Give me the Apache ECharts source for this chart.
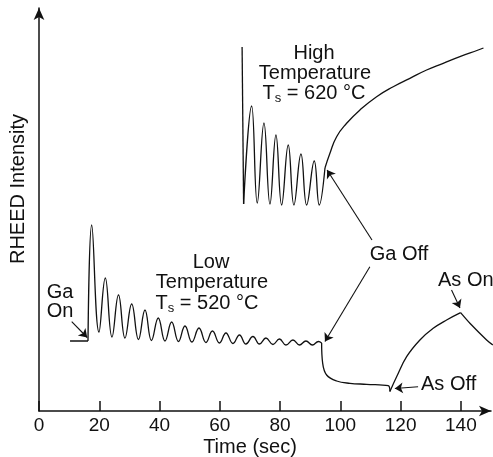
<!DOCTYPE html>
<html><head><meta charset="utf-8">
<script src="https://cdn.jsdelivr.net/npm/echarts@6/dist/echarts.min.js"></script>
<style>html,body{margin:0;padding:0;background:#fff}#c{width:493px;height:457px}</style>
</head><body><div id="c"></div>
<script>
// x tick values (Time, sec)
const xTicks = [0, 20, 40, 60, 80, 100, 120, 140];

// Low temperature (Ts = 520 °C) trace, [time, intensity]
const lowBefore = [[10.3, 70], [16.26, 70]];
const lowGrowth = [[16.26, 70], [17.49, 186], [19.91, 79], [22.0, 133], [24.22, 74], [26.38, 116], [28.53, 73],
  [30.76, 107], [33.01, 71.5], [35.17, 101], [37.33, 70.5], [39.58, 93], [41.81, 70], [44.03, 89],
  [46.28, 69.5], [48.44, 85], [50.76, 69], [53.09, 83], [55.41, 68.5], [57.56, 80], [59.89, 68],
  [62.04, 78], [64.37, 67.5], [66.52, 76], [68.68, 67], [71.0, 74.5], [73.16, 67], [75.32, 73],
  [77.64, 66.5], [79.79, 72], [81.95, 66], [84.27, 71], [86.43, 66], [88.59, 70], [90.74, 66],
  [92.73, 69.5], [93.79, 68]];
const lowGaOff = [[93.79, 68], [94.13, 48], [95.45, 36], [98.77, 30], [103.18, 27.7], [108.73, 26.7],
  [115.89, 25.3], [116.45, 19.5]];
const lowAsOff = [[116.45, 19.5], [118.68, 34.3], [122.0, 54.3], [126.41, 71], [130.82, 82.7],
  [135.27, 91], [139.91, 98.3]];
const lowAsOn = [[139.91, 98.3], [143.0, 87.7], [148.54, 71], [150.6, 66]];

// High temperature (Ts = 620 °C) trace
const highSpike = [[67.4, 364], [67.9, 207]];
const highGrowth = [[67.9, 207], [70.57, 305], [72.43, 208], [74.65, 288], [76.64, 207], [78.63, 276],
  [80.52, 206], [82.71, 266], [84.6, 206], [86.93, 257], [88.82, 206], [91.34, 250], [93.0, 206],
  [94.9, 243]];
const highGaOff = [[94.9, 243], [96.55, 257.7], [98.77, 274.3], [102.09, 287.7], [106.5, 301],
  [112.04, 314.3], [117.55, 324.3], [123.09, 332.7], [128.63, 341], [134.14, 347.7],
  [139.68, 354.3], [145.75, 361], [147.5, 363]];

// Annotation arrows: [from, to] in data coordinates
const arrows = [
  [[10.85, 89.3], [16.0, 73.5]],   // Ga On
  [[110.5, 171], [95.6, 241]],     // Ga Off (high)
  [[109.8, 144.3], [94.9, 69.5]],  // Ga Off (low)
  [[136.9, 121], [139.7, 103]],    // As On
  [[125.8, 24.3], [118.1, 22.5]]   // As Off
];

const FONT = '"Liberation Sans", Arial, Helvetica, sans-serif';
const INK = '#111';
const chart = echarts.init(document.getElementById('c'), null, {renderer: 'canvas'});

function lineSeries(data, smooth) {
  return {
    type: 'line', data: data, showSymbol: false, smooth: smooth, silent: true,
    lineStyle: {color: INK, width: 1.3}, z: 3
  };
}

const series = [
  lineSeries(lowBefore, false),
  lineSeries(lowGrowth, 0.45),
  lineSeries(lowGaOff, 0.4),
  lineSeries(lowAsOff, 0.4),
  lineSeries(lowAsOn, 0.3),
  lineSeries(highSpike, false),
  lineSeries(highGrowth, 0.45),
  lineSeries(highGaOff, 0.5)
];
series[0].markLine = {
  silent: true, animation: false,
  symbol: ['none', 'arrow'], symbolSize: 8,
  lineStyle: {color: INK, width: 1.1, type: 'solid'},
  label: {show: false},
  emphasis: {disabled: true},
  data: arrows.map(a => [{coord: a[0]}, {coord: a[1]}])
};

function txt(x, y, text, opts) {
  return Object.assign({
    type: 'text', x: x, y: y, silent: true,
    style: Object.assign({
      text: text, font: '20px ' + FONT, fill: INK,
      align: 'center', verticalAlign: 'middle',
      rich: {s: {fontSize: 13, fontFamily: FONT, fill: INK, padding: [11, 0, 0, 0]}}
    }, opts || {})
  });
}

chart.setOption({
  animation: false,
  backgroundColor: '#fff',
  grid: {left: 39, right: 2, top: 8, bottom: 46, containLabel: false},
  xAxis: {
    type: 'value', min: 0, max: 150, interval: 20,
    axisLine: {show: true, symbol: ['none', 'arrow'], symbolSize: [8, 12], lineStyle: {color: INK, width: 1.5}},
    axisTick: {show: true, inside: true, length: 10, lineStyle: {color: INK, width: 1.5},
      customValues: xTicks},
    axisLabel: {show: true, margin: 5, fontSize: 19, fontFamily: FONT, color: INK,
      customValues: xTicks},
    splitLine: {show: false}
  },
  yAxis: {
    type: 'value', min: 0, max: 403,
    axisLine: {show: true, symbol: ['none', 'arrow'], symbolSize: [8, 12], lineStyle: {color: INK, width: 1.5}},
    axisTick: {show: false}, axisLabel: {show: false}, splitLine: {show: false}
  },
  series: series,
  graphic: [
    txt(314, 53, 'High'),
    txt(315, 73, 'Temperature'),
    txt(314, 93, 'T{s|s} = 620 °C'),
    txt(211, 262, 'Low'),
    txt(212, 282, 'Temperature'),
    txt(207, 303, 'T{s|s} = 520 °C'),
    txt(60, 292, 'Ga'),
    txt(60, 311, 'On'),
    txt(399, 254, 'Ga Off'),
    txt(438, 280, 'As On', {align: 'left'}),
    txt(421, 384, 'As Off', {align: 'left'}),
    txt(250, 447, 'Time (sec)'),
    Object.assign(txt(18, 189, 'RHEED Intensity'), {rotation: Math.PI / 2})
  ]
});
</script>
</body></html>
